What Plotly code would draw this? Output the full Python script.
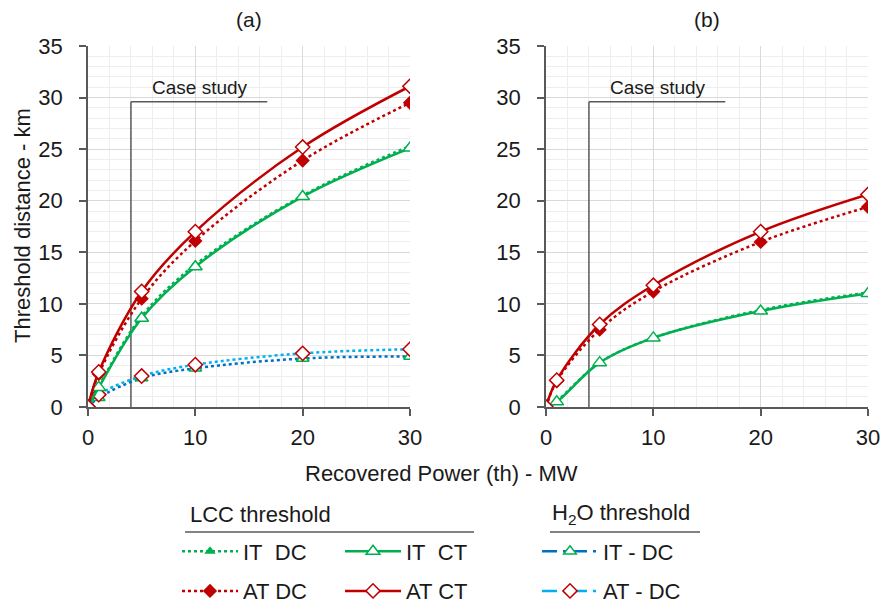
import plotly.graph_objects as go

# ---------------- data ----------------
power_mw = [0, 1, 5, 10, 20, 30]

# panel (a)
a_it_dc = [0, 2.0, 8.8, 13.8, 20.5, 25.3]
a_it_ct = [0, 1.9, 8.6, 13.6, 20.4, 25.1]
a_at_dc = [0, 3.2, 10.5, 16.1, 23.9, 29.5]
a_at_ct = [0, 3.4, 11.2, 17.0, 25.2, 31.1]
a_h2o_it_dc = [0, 0.9, 2.8, 3.75, 4.7, 4.9]
a_h2o_at_dc = [0, 1.2, 3.0, 4.1, 5.2, 5.6]

# panel (b)
b_it_dc = [0, 0.6, 4.3, 6.7, 9.4, 11.1]
b_it_ct = [0, 0.5, 4.3, 6.7, 9.3, 11.0]
b_at_dc = [0, 2.5, 7.5, 11.2, 16.0, 19.4]
b_at_ct = [0, 2.6, 8.0, 11.8, 17.0, 20.6]

case_study_power = 4
case_study_top = 29.6
case_study_end = 16.7
case_study_label = "Case study"

panel_titles = ["(a)", "(b)"]
x_title = "Recovered Power (th) - MW"
y_title = "Threshold distance - km"

# ---------------- style ----------------
RED = "#C00000"
GREEN = "#00B050"
DBLUE = "#0070C0"
LBLUE = "#00B0F0"
GRAY = "#595959"
FONT = "Liberation Sans, Arial, sans-serif"
TXT = "#1a1a1a"
W, H = 882, 605


def px(x):
    return x / W


def py(y):
    return (H - y) / H


fig = go.Figure()


def add_lcc(xa, ya, it_dc, it_ct, at_dc, at_ct, show):
    fig.add_trace(go.Scatter(
        x=power_mw, y=it_dc, name="IT\u00a0 DC", xaxis=xa, yaxis=ya,
        mode="lines+markers", line=dict(color=GREEN, width=2.5, dash="dot", shape="spline"),
        marker=dict(symbol="triangle-up", size=10, color=GREEN),
        showlegend=show, legend="legend", legendgroup="g1"))
    fig.add_trace(go.Scatter(
        x=power_mw, y=at_dc, name="AT DC", xaxis=xa, yaxis=ya,
        mode="lines+markers", line=dict(color=RED, width=2.5, dash="dot", shape="spline"),
        marker=dict(symbol="diamond", size=11, color=RED),
        showlegend=show, legend="legend", legendgroup="g2"))
    fig.add_trace(go.Scatter(
        x=power_mw, y=it_ct, name="IT\u00a0 CT", xaxis=xa, yaxis=ya,
        mode="lines+markers", line=dict(color=GREEN, width=2.5, shape="spline"),
        marker=dict(symbol="triangle-up", size=12, color="white", line=dict(color=GREEN, width=1.5)),
        showlegend=show, legend="legend2", legendgroup="g3"))
    fig.add_trace(go.Scatter(
        x=power_mw, y=at_ct, name="AT CT", xaxis=xa, yaxis=ya,
        mode="lines+markers", line=dict(color=RED, width=2.5, shape="spline"),
        marker=dict(symbol="diamond", size=11, color="white", line=dict(color=RED, width=1.5)),
        showlegend=show, legend="legend2", legendgroup="g4"))


# H2O threshold traces (panel a)
fig.add_trace(go.Scatter(
    x=power_mw, y=a_h2o_it_dc, xaxis="x", yaxis="y", showlegend=False,
    mode="lines+markers", line=dict(color=DBLUE, width=2.5, dash="dot", shape="spline"),
    marker=dict(symbol="triangle-up", size=11, color="white", line=dict(color=GREEN, width=1.5))))
fig.add_trace(go.Scatter(
    x=power_mw, y=a_h2o_at_dc, xaxis="x", yaxis="y", showlegend=False,
    mode="lines+markers", line=dict(color=LBLUE, width=2.5, dash="dot", shape="spline"),
    marker=dict(symbol="diamond", size=11, color="white", line=dict(color=RED, width=1.5))))

add_lcc("x", "y", a_it_dc, a_it_ct, a_at_dc, a_at_ct, True)
add_lcc("x2", "y2", b_it_dc, b_it_ct, b_at_dc, b_at_ct, False)

# legend entries for the H2O threshold (dash-dot samples)
fig.add_trace(go.Scatter(
    x=[None], y=[None], name="IT - DC", mode="lines+markers", legend="legend3", legendgroup="h1",
    line=dict(color=DBLUE, width=2.5, dash="longdashdot"),
    marker=dict(symbol="triangle-up", size=11, color="white", line=dict(color=GREEN, width=1.5))))
fig.add_trace(go.Scatter(
    x=[None], y=[None], name="AT - DC", mode="lines+markers", legend="legend3", legendgroup="h2",
    line=dict(color=LBLUE, width=2.5, dash="longdashdot"),
    marker=dict(symbol="diamond", size=11, color="white", line=dict(color=RED, width=1.5))))

ydom = [py(407), py(46)]
axis_common = dict(
    showline=True, linecolor=GRAY, linewidth=1.5,
    ticks="outside", ticklen=7, tickwidth=1.5, tickcolor=GRAY,
    showgrid=True, gridcolor="#D9D9D9", gridwidth=1,
    zeroline=False, automargin=False,
    tickfont=dict(family=FONT, size=22, color=TXT),
)
xcommon = dict(axis_common, range=[0, 30], tickvals=[0, 10, 20, 30], ticklabelstandoff=3,
               minor=dict(dtick=2, tick0=0, showgrid=True, gridcolor="#EEEEEE", gridwidth=1, ticks=""))
ycommon = dict(axis_common, range=[0, 35], tickvals=[0, 5, 10, 15, 20, 25, 30, 35], ticklabelstandoff=12,
               minor=dict(dtick=1, tick0=0, showgrid=True, gridcolor="#EEEEEE", gridwidth=1, ticks=""))

leg_common = dict(xref="container", yref="container", xanchor="left", yanchor="middle",
                  y=py(571.5), itemwidth=56, tracegroupgap=8,
                  font=dict(family=FONT, size=22, color=TXT), bgcolor="rgba(0,0,0,0)")

fig.update_layout(
    width=W, height=H,
    margin=dict(l=0, r=0, t=0, b=0, autoexpand=False),
    paper_bgcolor="white", plot_bgcolor="white",
    font=dict(family=FONT, size=22, color=TXT),
    xaxis=dict(xcommon, domain=[px(88), px(410)], anchor="y"),
    yaxis=dict(ycommon, domain=ydom, anchor="x"),
    xaxis2=dict(xcommon, domain=[px(546), px(868)], anchor="y2"),
    yaxis2=dict(ycommon, domain=ydom, anchor="x2"),
    legend=dict(leg_common, x=px(177)),
    legend2=dict(leg_common, x=px(340)),
    legend3=dict(leg_common, x=px(537)),
)

shapes = []
annotations = []
for xa, ya in (("x", "y"), ("x2", "y2")):
    shapes.append(dict(type="line", xref=xa, yref=ya, x0=case_study_power, x1=case_study_power,
                       y0=0, y1=case_study_top, line=dict(color=GRAY, width=1.5), layer="between"))
    shapes.append(dict(type="line", xref=xa, yref=ya, x0=case_study_power, x1=case_study_end,
                       y0=case_study_top, y1=case_study_top, line=dict(color=GRAY, width=1.5), layer="between"))
    annotations.append(dict(xref=xa, yref=ya, x=(case_study_power + case_study_end) / 2 + 0.1,
                            y=case_study_top + 1.4, text=case_study_label, showarrow=False,
                            xanchor="center", yanchor="middle",
                            font=dict(family=FONT, size=19, color=TXT)))


def note(x, y, text, size=22, xanchor="center", angle=0):
    annotations.append(dict(xref="paper", yref="paper", x=px(x), y=py(y), text=text,
                            xanchor=xanchor, yanchor="middle", textangle=angle, showarrow=False,
                            font=dict(family=FONT, size=size, color=TXT)))


# panel titles
note(249, 19, panel_titles[0], size=21)
note(707, 19, panel_titles[1], size=21)
# axis titles
note(441, 473, x_title)
note(22, 226, y_title, angle=-90)
# legend headings
note(188, 514, "LCC threshold", xanchor="left")
note(550, 514, "H<sub>2</sub>O threshold", xanchor="left")
shapes.append(dict(type="line", xref="paper", yref="paper", x0=px(185), x1=px(474), y0=py(532), y1=py(532),
                   line=dict(color=GRAY, width=1.5)))
shapes.append(dict(type="line", xref="paper", yref="paper", x0=px(550), x1=px(700), y0=py(532), y1=py(532),
                   line=dict(color=GRAY, width=1.5)))

fig.update_layout(shapes=shapes, annotations=annotations)
fig.write_html(
    "out.html",
    config={"displayModeBar": False},
    post_script="document.body.style.margin='0';document.body.style.overflow='hidden';",
)
